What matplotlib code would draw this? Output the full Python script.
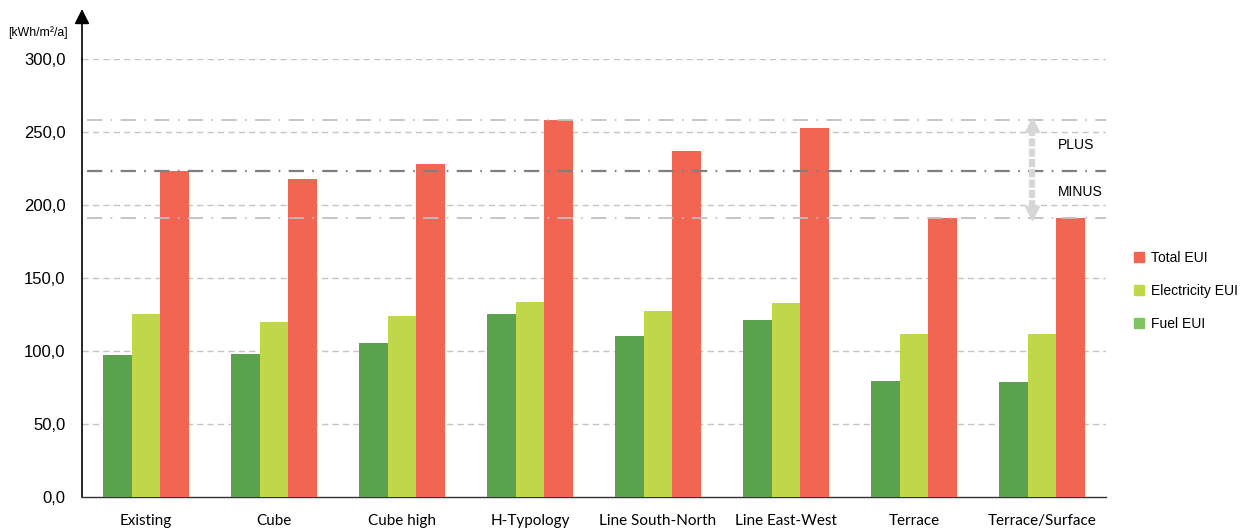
import matplotlib
matplotlib.use("Agg")
import matplotlib.pyplot as plt
from matplotlib.patches import Patch
import numpy as np

categories = ["Existing", "Cube", "Cube high", "H-Typology", "Line South-North",
              "Line East-West", "Terrace", "Terrace/Surface"]
fuel_eui = [97.2, 97.9, 105.4, 125.2, 110.2, 121.1, 79.4, 78.8]
electricity_eui = [125.2, 119.7, 123.8, 133.4, 127.3, 132.7, 111.5, 111.5]
total_eui = [222.9, 217.4, 228.3, 258.4, 237.2, 252.3, 190.8, 190.8]
y_ticks = [0, 50, 100, 150, 200, 250, 300]
y_tick_labels = ["0,0", "50,0", "100,0", "150,0", "200,0", "250,0", "300,0"]
ref_lines = [258.4, 222.9, 190.8]

C_FUEL = "#5BA24F"
C_ELEC = "#BFD748"
C_TOTAL = "#F26552"
C_FUEL_LEG = "#7FC461"

W, H = 1254, 531
fig = plt.figure(figsize=(W / 100, H / 100), dpi=100)
ax_left, ax_right = 82 / W, 1106 / W
y0_px, y300_px = 497.3, 58.7
ax = fig.add_axes([ax_left, (H - y0_px) / H, ax_right - ax_left, (y0_px - y300_px) / H])

x = np.arange(len(categories))
bw = 0.225
ax.bar(x - bw, fuel_eui, bw, color=C_FUEL, zorder=3)
ax.bar(x, electricity_eui, bw, color=C_ELEC, zorder=3)
ax.bar(x + bw, total_eui, bw, color=C_TOTAL, zorder=3)

ax.set_xlim(-0.5, len(categories) - 0.5)
ax.set_ylim(0, 300)

# gridlines
for yv in y_ticks[1:]:
    ax.axhline(yv, color="#C4C4C4", lw=1.0, ls=(0, (4.5, 3)), zorder=1)

# reference dash-dot lines
ref_styles = [("#C0C0C0", 1.3), ("#7F7F7F", 1.6), ("#C0C0C0", 1.3)]
for yv, (c, lw) in zip(ref_lines, ref_styles):
    ax.axhline(yv, xmin=0.005, xmax=1.0, color=c, lw=lw,
               ls=(0, (11 / lw, 6 / lw, 1.2 / lw, 6 / lw)),
               zorder=4, clip_on=False)

# spines
for s in ["top", "right"]:
    ax.spines[s].set_visible(False)
ax.spines["left"].set_color("black")
ax.spines["bottom"].set_color("#333333")
ax.spines["left"].set_linewidth(1.2)
ax.spines["bottom"].set_linewidth(1.0)

# y-axis arrow
ax.annotate("", xy=(0, (y0_px - 9) / (y0_px - y300_px)), xytext=(0, 1.0),
            xycoords="axes fraction", textcoords="axes fraction",
            arrowprops=dict(arrowstyle="-|>,head_length=0.9,head_width=0.45",
                            color="black", lw=1.2, shrinkA=0, shrinkB=0),
            annotation_clip=False)

ax.set_yticks(y_ticks)
ax.set_yticklabels(y_tick_labels, fontfamily="Liberation Sans", fontsize=12)
ax.tick_params(axis="y", length=0, pad=12)
ax.set_xticks(x)
ax.set_xticklabels(categories, fontfamily="Lato", fontsize=11)
ax.tick_params(axis="x", length=0, pad=12)

fig.text(8 / W, (H - 33) / H, "[kWh/m²/a]", fontfamily="Liberation Sans",
         fontsize=8.8, va="center", ha="left")

# PLUS / MINUS indicator
ax_x = 6.92
ax.plot([ax_x, ax_x], [252.5, 196.5], color="#D6D6D6", lw=4.5,
        ls=(0, (1.3, 0.35)), dash_capstyle="butt",
        zorder=5, clip_on=False)
ax.plot([ax_x], [254.5], marker="^", ms=10, color="#D6D6D6", mec="#D6D6D6",
        zorder=5, clip_on=False)
ax.plot([ax_x], [194.5], marker="v", ms=10, color="#D6D6D6", mec="#D6D6D6",
        zorder=5, clip_on=False)
ax.text(7.27, 241, "PLUS", fontfamily="Liberation Sans", fontsize=10,
        ha="center", va="center", zorder=6)
ax.text(7.30, 209, "MINUS", fontfamily="Liberation Sans", fontsize=10,
        ha="center", va="center", zorder=6)

handles = [Patch(color=C_TOTAL), Patch(color=C_ELEC), Patch(color=C_FUEL_LEG)]
labels = ["Total EUI", "Electricity EUI", "Fuel EUI"]
fig.legend(handles, labels, loc="center left",
           bbox_to_anchor=(1134 / W, (H - 291) / H),
           frameon=False, prop={"family": "Liberation Sans", "size": 10},
           handlelength=0.75, handleheight=0.75, handletextpad=0.45,
           labelspacing=1.35, borderaxespad=0, borderpad=0)

fig.savefig("out.png", dpi=100)
